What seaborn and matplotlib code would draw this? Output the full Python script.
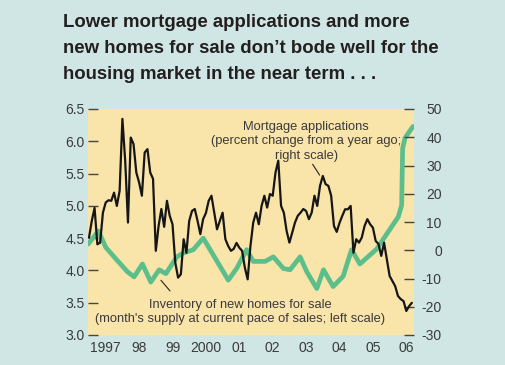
import numpy as np
import pandas as pd
import seaborn as sns
import matplotlib.pyplot as plt

# mortgage applications, percent change from a year ago (right scale), monthly from Jan 1997
mortgage_change = [4.5, 10.4, 15.0, 2.1, 2.7, 13.3, 16.9, 17.7, 17.5, 20.4, 15.7, 21.0,
                   46.5, 31.7, 9.8, 39.9, 37.6, 27.5, 24.0, 19.3, 34.6, 35.8, 27.5, 25.3,
                   -0.2, 8.6, 14.6, 8.3, 17.5, 12.2, 9.2, -4.4, -9.7, -8.5, 3.9, -0.9,
                   10.4, 13.9, 14.6, 10.4, 5.7, 11.0, 13.2, 17.5, 19.3, 13.3, 7.4, 10.4,
                   13.3, 3.9, 1.5, -0.2, 0.5, 2.6, 0.9, -0.2, -6.2, -10.3, 1.5, 9.8,
                   13.3, 9.2, 15.7, 19.3, 15.1, 19.9, 19.3, 27.5, 31.7, 15.7, 13.3, 6.8,
                   2.7, 6.2, 9.8, 12.2, 13.3, 14.6, 13.9, 11.0, 13.3, 19.3, 15.7, 22.8,
                   26.3, 23.4, 22.8, 19.3, 8.6, 6.5, 9.7, 12.2, 14.5, 14.5, 15.7, -0.9,
                   3.9, 2.7, 4.5, 8.6, 11.0, 9.2, 8.0, 3.3, 2.2, -2.0, 2.7, -3.2,
                   -9.1, -10.9, -12.7, -16.2, -17.3, -18.0, -21.5, -19.8, -18.6]
mortgage_dates = [1997 + i / 12 for i in range(len(mortgage_change))]

# inventory of new homes for sale, months' supply (left scale)
inventory_dates = [1996.98, 1997.28, 1997.5, 1997.75, 1998.15, 1998.35, 1998.6, 1998.85, 1999.1, 1999.3,
                   1999.63, 1999.82, 2000.12, 2000.42, 2001.17, 2001.42, 2001.72, 2001.92, 2002.27, 2002.52,
                   2002.82, 2003.02, 2003.32, 2003.52, 2003.82, 2004.02, 2004.31, 2004.61, 2004.86, 2005.11,
                   2005.61, 2006.26, 2006.36, 2006.39, 2006.46, 2006.7]
inventory_months = [4.41, 4.61, 4.36, 4.21, 3.98, 3.90, 4.10, 3.82, 4.01, 3.95,
                    4.21, 4.27, 4.32, 4.50, 3.85, 4.03, 4.32, 4.14, 4.14, 4.21,
                    4.03, 4.01, 4.21, 3.98, 3.72, 4.01, 3.75, 3.91, 4.32, 4.10,
                    4.33, 4.83, 5.01, 5.89, 6.05, 6.23]

year_starts = [1997, 1998, 1999, 2000, 2001, 2002, 2003, 2004, 2005, 2006]
year_labels = ['1997', '98', '99', '2000', '01', '02', '03', '04', '05', '06']
left_ticks = [3.0, 3.5, 4.0, 4.5, 5.0, 5.5, 6.0, 6.5]
right_ticks = [-30, -20, -10, 0, 10, 20, 30, 40, 50]
right_labels = ['-30', '-20', '-10', '0', '10', '20', '30', '40', '50']

BG = '#d0e6e4'
PLOT_BG = '#f9e4aa'
GREEN = '#5cbf8b'
TXT = '#3a3a3a'

sns.set_style('white')
plt.rcParams['font.family'] = ['Liberation Sans', 'DejaVu Sans']

fig = plt.figure(figsize=(5.05, 3.65), dpi=100, facecolor=BG)
ax = fig.add_axes([88 / 505, 1 - 335 / 365, 326 / 505, 226 / 365])
ax.set_facecolor(PLOT_BG)

sns.lineplot(x=inventory_dates, y=inventory_months, ax=ax, color=GREEN, linewidth=3.4)
ax2 = ax.twinx()
sns.lineplot(x=mortgage_dates, y=mortgage_change, ax=ax2, color='#161616', linewidth=1.6)

ax.set_xlim(1996.97, 2006.73)
ax.set_ylim(3.0, 6.5)
ax2.set_ylim(-30, 50)
for a in (ax, ax2):
    for s in a.spines.values():
        s.set_visible(False)
    a.set_xlabel('')
    a.set_ylabel('')

ax.set_yticks(left_ticks)
ax.set_yticklabels([f'{v:.1f}' for v in left_ticks])
ax.tick_params(axis='y', direction='in', length=7, width=1, color='#444444',
               labelsize=10, labelcolor=TXT, pad=2.2)
ax2.set_yticks(right_ticks)
ax2.set_yticklabels(right_labels)
ax2.tick_params(axis='y', direction='in', length=7, width=1, color='#444444',
                labelsize=10, labelcolor=TXT, pad=20)
for lab in ax2.get_yticklabels():
    lab.set_horizontalalignment('right')

ax.set_xticks(year_starts)
ax.set_xticklabels([])
ax.set_xticks([y + 0.5 for y in year_starts], minor=True)
ax.set_xticklabels(year_labels, minor=True)
ax.tick_params(axis='x', which='major', direction='in', length=6, width=1, color='#444444')
ax.tick_params(axis='x', which='minor', length=0, labelsize=10, labelcolor=TXT, pad=4.5)

# annotations
note_size = 9.3
ax.text(2003.5, 6.175, 'Mortgage applications', ha='center', va='baseline', fontsize=note_size, color=TXT)
ax.text(2003.5, 5.954, '(percent change from a year ago;', ha='center', va='baseline', fontsize=note_size, color=TXT)
ax.text(2003.5, 5.726, 'right scale)', ha='center', va='baseline', fontsize=note_size, color=TXT)
ax.annotate('', xy=(2003.95, 5.44), xytext=(2003.65, 5.68),
            arrowprops=dict(arrowstyle='-', color='#222222', lw=0.8))

ax.text(2001.52, 3.415, 'Inventory of new homes for sale', ha='center', va='baseline', fontsize=note_size, color=TXT)
ax.text(2001.52, 3.195, "(month's supply at current pace of sales; left scale)", ha='center', va='baseline',
        fontsize=note_size, color=TXT)
ax.annotate('', xy=(1999.1, 3.88), xytext=(1999.48, 3.65),
            arrowprops=dict(arrowstyle='-', color='#222222', lw=0.8))

title_lines = ['Lower mortgage applications and more',
               'new homes for sale don\u2019t bode well for the',
               'housing market in the near term . . .']
for i, line in enumerate(title_lines):
    fig.text(63 / 505, 1 - (26.7 + 26.2 * i) / 365, line, ha='left', va='baseline',
             fontsize=13.4, fontweight='bold', color='#231f20')

plt.savefig('out.png', dpi=100, facecolor=BG)
